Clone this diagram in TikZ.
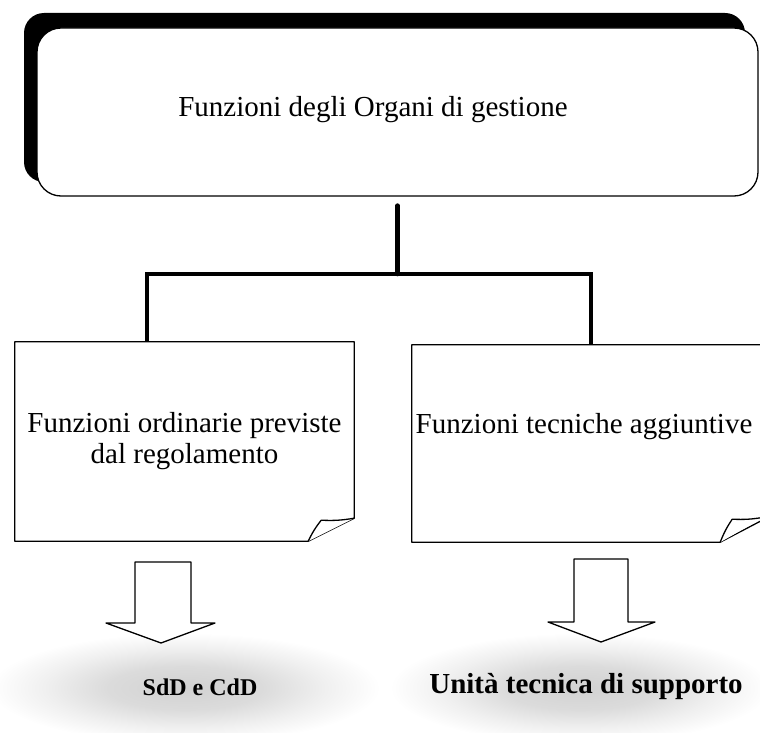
\documentclass[tikz,border=0pt]{standalone}
\usepackage{fontspec}
\setmainfont{Liberation Serif}
\pgfdeclareradialshading{halo}{\pgfpoint{0bp}{0bp}}{color(0bp)=(black!18); color(10bp)=(black!14); color(18bp)=(black!6); color(25bp)=(white); color(50bp)=(white)}
\begin{document}
\begin{tikzpicture}[x=1pt,y=-1pt,line join=round,
  thinline/.style={line width=1.3pt},
  conn/.style={line width=4.6pt},
  toptext/.style={font=\fontsize{29}{31}\selectfont},
  lvltwo/.style={font=\fontsize{29}{31}\selectfont,align=center},
  result/.style={font=\bfseries\fontsize{29}{31}\selectfont},
  smallresult/.style={font=\bfseries\fontsize{24}{28}\selectfont},
  blockarrow/.style={thinline,fill=white}]
\useasboundingbox (0,0) rectangle (760,733);
% grey halos behind the results
\shade[shading=halo] (185,688) ellipse (195 and 55);
\shade[shading=halo] (580,688) ellipse (190 and 55);
% top box with shadow
\fill[black,rounded corners=20pt] (24,13) rectangle (745,182);
\node[draw,thinline,fill=white,rounded corners=24pt,minimum width=721pt,minimum height=168pt] (top) at (397.5,112) {};
\node[toptext] (ttxt) at (373,110) {Funzioni degli Organi di gestione};
% second level boxes
\node[minimum width=339pt,minimum height=199pt,lvltwo] (L) at (184.5,441.5) {Funzioni ordinarie previste\\dal regolamento};
\node[minimum width=352pt,minimum height=197pt] (R) at (588,443.5) {};
\node[lvltwo] (rtxt) at (584,427) {Funzioni tecniche aggiuntive};
\draw[thinline] (L.south west) -- (L.north west) -- (L.north east) -- ([yshift=23pt]L.south east) -- ([xshift=-46pt]L.south east) -- cycle;
\draw[thinline,fill=white] ([xshift=-46pt]L.south east) to[bend left=6] ([xshift=-33pt,yshift=21pt]L.south east) to[bend right=6] ([yshift=23pt]L.south east);
\draw[thinline] (R.south west) -- (R.north west) -- (R.north east) -- ([yshift=23pt]R.south east) -- ([xshift=-44pt]R.south east) -- cycle;
\draw[thinline,fill=white] ([xshift=-44pt]R.south east) to[bend left=6] ([xshift=-32pt,yshift=23pt]R.south east) to[bend right=6] ([yshift=25pt]R.south east);
% connectors
\coordinate (c0) at ([yshift=-9pt]top.south);
\coordinate (hl) at (147,274);
\coordinate (hr) at (591,274);
\draw[conn,line cap=round] (c0) -- (c0 |- hl);
\draw[conn,line join=miter] (hl |- L.north) -- (hl) -- (hr) -- (hr |- R.north);
% results and block arrows
\node[smallresult] (sdd) at (200,687) {SdD e CdD};
\node[result] (uts) at (586,687) {Unità tecnica di supporto};
\draw[blockarrow] (135,562) -- (191,562) -- (191,623) -- (215,623) -- (161,643) -- (106,623) -- (135,623) -- cycle;
\draw[blockarrow] (574,559) -- (628,559) -- (628,622) -- (655,622) -- (601,642) -- (548,622) -- (574,622) -- cycle;
\end{tikzpicture}
\end{document}
